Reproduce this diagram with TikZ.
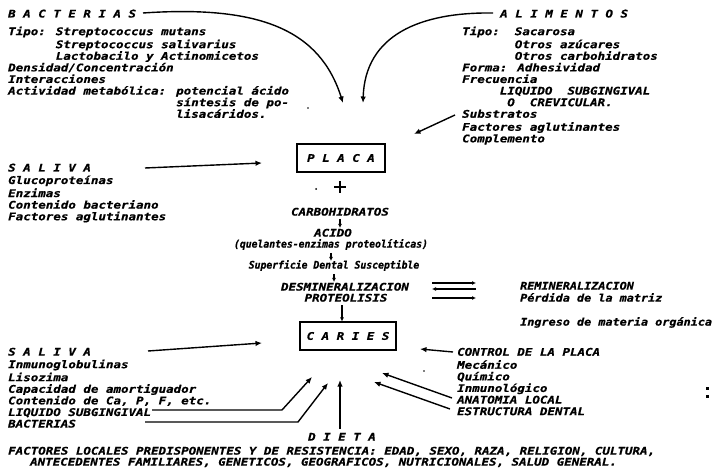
\documentclass[tikz,border=0pt]{standalone}
\usepackage{fontspec}
\usetikzlibrary{arrows.meta}
% typewriter faces used for the labels
\newfontfamily\twfam{DejaVu Sans Mono}[FakeStretch=1.19, FakeBold=0.7]
\newfontfamily\twnfam{DejaVu Sans Mono}[FakeStretch=0.93, FakeBold=0.7]
\newfontfamily\twmfam{DejaVu Sans Mono}[FakeStretch=1.124, FakeBold=0.7]
\newcommand\tw{\twfam\bfseries\itshape\fontsize{10.5}{11.6}\selectfont}
\newcommand\twn{\twnfam\bfseries\itshape\fontsize{10.5}{11.6}\selectfont}
\newcommand\twm{\twmfam\bfseries\itshape\fontsize{10.5}{11.6}\selectfont}

\begin{document}
\begin{tikzpicture}[x=1pt,y=-1pt,
  lbl/.style={anchor=base west, inner sep=0pt, font=\tw},
  mid/.style={anchor=base, inner sep=0pt, font=\tw},
  blk/.style={anchor=north west, inner sep=0pt, font=\tw, align=left},
  framebox/.style={draw, line width=1.1pt, inner sep=0pt, font=\tw},
  arr/.style={line width=1.4pt, -{Latex[length=6.5pt,width=5.5pt]}},
  small/.style={line width=1.1pt, -{Latex[length=4pt,width=4pt]}},
]
\useasboundingbox[fill=white] (0,0) rectangle (714,470);

% ---------------- BACTERIAS ----------------
\node[lbl] (bact) at (8,17.5) {B A C T E R I A S};
\node[blk] (bactlist) at (8,26.4) {\strut Tipo: Streptococcus mutans\\
\phantom{Tipo: }Streptococcus salivarius\\
\phantom{Tipo: }Lactobacilo y Actinomicetos\\
Densidad/Concentración\\
Interacciones\\
Actividad metabólica: potencial ácido\\
\phantom{Actividad metabólica: }síntesis de po-\\
\phantom{Actividad metabólica: }lisacáridos.};

% ---------------- ALIMENTOS ----------------
\node[lbl] (alim) at (500,17.5) {A L I M E N T O S};
\node[blk] (alimlist) at (462,26.4) {\strut Tipo:~~Sacarosa\\
\phantom{Tipo:~~}Otros azúcares\\
\phantom{Tipo:~~}Otros carbohidratos\\
Forma: Adhesividad\\
Frecuencia\\
~~~~~LIQUIDO~~SUBGINGIVAL\\
~~~~~~O~~CREVICULAR.};
\node[blk] (alimsub) at (462,109.4) {\strut Substratos\\
Factores aglutinantes\\
Complemento};

% ---------------- SALIVA (upper) ----------------
\node[lbl] (sal1) at (8,171.5) {S A L I V A};
\node[blk] (sal1list) at (8,175.4) {\strut Glucoproteínas\\
Enzimas\\
Contenido bacteriano\\
Factores aglutinantes};

% ---------------- central chain ----------------
\node[framebox, minimum width=88pt, minimum height=28pt] (placa) at (341,158) {P L A C A};
\fill (308,108) circle (0.9pt);
\fill (316,189) circle (1pt);
\draw[line width=1.5pt] (334,187) -- (346,187) (340,181) -- (340,193);
\node[mid] (carb) at (340,215.6) {CARBOHIDRATOS};
\node[mid] (acido) at (333,236.6) {ACIDO};
\node[mid, font=\twn] (quel) at (331,247.6) {(quelantes-enzimas proteolíticas)};
\node[mid, font=\twn] (sup) at (334,268.6) {Superficie Dental Susceptible};
\node[mid] (desm) at (345,290.6) {DESMINERALIZACION};
\node[mid] (prot) at (346,301.6) {PROTEOLISIS};
\node[framebox, minimum width=96pt, minimum height=28pt] (caries) at (348,336) {C A R I E S};

\draw[small] (carb.south) ++(0,3) coordinate (c1) -- ++(0,9);
\draw[small] (quel.south) ++(0,3) coordinate (c2) -- ++(0,8);
\draw[small] (sup.south) ++(0,3) coordinate (c3) -- ++(0,8);
\draw[small] (342,305) coordinate (c4) -- (caries.north -| c4);

% ---------------- remineralisation ----------------
\node[lbl, font=\twm] (remi) at (520,289.6) {REMINERALIZACION};
\node[lbl, font=\twm] (perd) at (520,301.6) {Pérdida de la matriz};
\node[lbl, font=\twm] (ingr) at (520,325.6) {Ingreso de materia orgánica};
\coordinate (eqA) at (432,283);
\coordinate (eqB) at (476,283);
\coordinate (eqC) at (432,289);
\coordinate (eqD) at (476,289);
\coordinate (eqE) at (432,298);
\coordinate (eqF) at (476,298);
\draw[small] (eqA) -- (eqB);
\draw[small] (eqD) -- (eqC);
\draw[small] (eqE) -- (eqF);

% ---------------- SALIVA (lower) ----------------
\node[lbl] (sal2) at (8,355.6) {S A L I V A};
\node[blk] (sal2list) at (8,359.4) {\strut Inmunoglobulinas\\
Lisozima\\
Capacidad de amortiguador\\
Contenido de Ca, P, F, etc.\\
LIQUIDO SUBGINGIVAL\\
BACTERIAS};

% ---------------- control de la placa ----------------
\node[blk] (ctrl) at (457,347.4) {\strut CONTROL DE LA PLACA\\
Mecánico\\
Químico\\
Inmunológico\\
ANATOMIA LOCAL\\
ESTRUCTURA DENTAL};
\fill (424,371) circle (0.8pt);

\node[mid] (dieta) at (342,440.6) {D I E T A};

% ---------------- bottom line ----------------
\node[lbl] (fact1) at (8,454.6) {FACTORES LOCALES PREDISPONENTES Y DE RESISTENCIA: EDAD, SEXO, RAZA, RELIGION, CULTURA,};
\node[lbl] (fact2) at (30,465.6) {ANTECEDENTES FAMILIARES, GENETICOS, GEOGRAFICOS, NUTRICIONALES, SALUD GENERAL.};

\fill (705.5,386.5) rectangle (708.5,389.5);
\fill (705.5,394.5) rectangle (708.5,397.5);

% ---------------- connectors ----------------
\coordinate (bactS) at (143,13);
\coordinate (bactT) at (343,103);
\draw[arr] (bactS) .. controls (260,5) and (320,30) .. (bactT);
\coordinate (alimS) at (493,13);
\coordinate (alimT) at (363,103);
\draw[arr] (alimS) .. controls (420,12) and (365,35) .. (alimT);
\coordinate (subS) at (455,115);
\coordinate (subT) at (414,134);
\draw[arr] (subS) -- (subT);
\coordinate (s1S) at (145,168);
\coordinate (s1T) at (262,163);
\draw[arr] (s1S) -- (s1T);
\coordinate (s2S) at (148,351);
\coordinate (s2T) at (262,343);
\draw[arr] (s2S) -- (s2T);
\coordinate (liqS) at (152,410);
\coordinate (liqK) at (282,410);
\coordinate (liqT) at (312,377);
\draw[arr] (liqS) -- (liqK) -- (liqT);
\coordinate (bacS) at (145,422);
\coordinate (bacK) at (298,422);
\coordinate (bacT) at (328,383);
\draw[arr] (bacS) -- (bacK) -- (bacT);
\coordinate (dtT) at (340,380);
\draw[arr] (dieta.north -| dtT) ++(0,-4) -- (dtT);
\coordinate (ctS) at (453,352);
\coordinate (ctT) at (420,349);
\draw[arr] (ctS) -- (ctT);
\coordinate (anS) at (452,398);
\coordinate (anT) at (382,373);
\draw[arr] (anS) -- (anT);
\coordinate (esS) at (450,409);
\coordinate (esT) at (374,382);
\draw[arr] (esS) -- (esT);
\end{tikzpicture}
\end{document}
